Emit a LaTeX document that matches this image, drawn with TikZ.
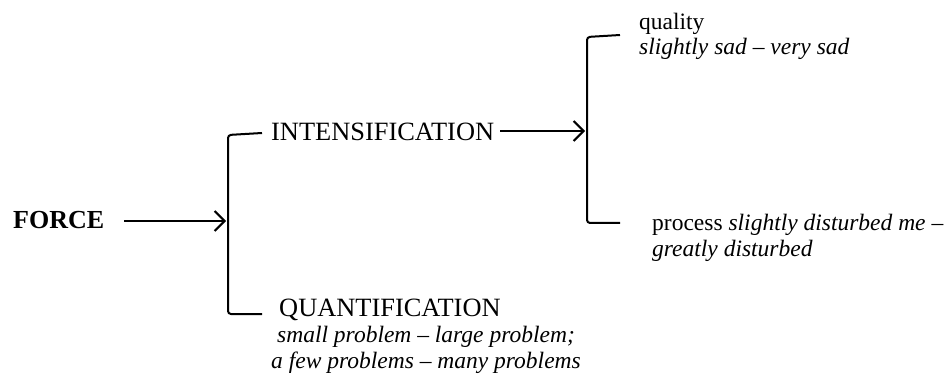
\documentclass[tikz,border=0pt]{standalone}
\usepackage{fontspec}
\setmainfont{Liberation Serif}
\usetikzlibrary{arrows.meta}
\begin{document}
\begin{tikzpicture}[x=1pt,y=-1pt,
  big/.style={font=\fontsize{26.4}{26}\selectfont, inner sep=0pt, anchor=base west},
  small/.style={font=\fontsize{23.5}{26}\selectfont, inner sep=0pt, anchor=base west},
  smallc/.style={font=\fontsize{23.5}{26}\selectfont\itshape, inner sep=0pt, anchor=base},
  arr/.style={line width=2pt, -{Straight Barb[length=10pt,width=20pt,line width=2pt]}},
  brk/.style={line width=2pt, rounded corners=3pt}]
\useasboundingbox (0,0) rectangle (952,379);
% texts
\node[big, font=\fontsize{26}{26}\selectfont\bfseries] (force) at (13,229) {FORCE};
\node[big] (intens) at (271,141) {INTENSIFICATION};
\node[big] (quant) at (279,316) {QUANTIFICATION};
\node[smallc] (quantA) at (426,342) {small problem – large problem;};
\node[smallc] (quantB) at (426,368) {a few problems – many problems};
\node[small] (quality) at (639,30) {quality};
\node[small, font=\fontsize{23.5}{26}\selectfont\itshape] (qualex) at (639,55) {slightly sad – very sad};
\node[small] (process) at (652,230) {process \textit{slightly disturbed me –}};
\node[small, font=\fontsize{23.5}{26}\selectfont\itshape] (procex) at (652,256) {greatly disturbed};
% connector points
\coordinate (fa) at (124,221);
\coordinate (lb) at (226,221);
\coordinate (ia) at (500,131);
\coordinate (rb) at (585,131);
% arrows
\draw[arr] (fa) -- (lb);
\draw[arr] (ia) -- (rb);
% brackets
\draw[brk] (262,133) -- (228,135) -- (228,314) -- (262,314);
\draw[brk] (620,35) -- (587,37) -- (587,223) -- (620,223);
\end{tikzpicture}
\end{document}
